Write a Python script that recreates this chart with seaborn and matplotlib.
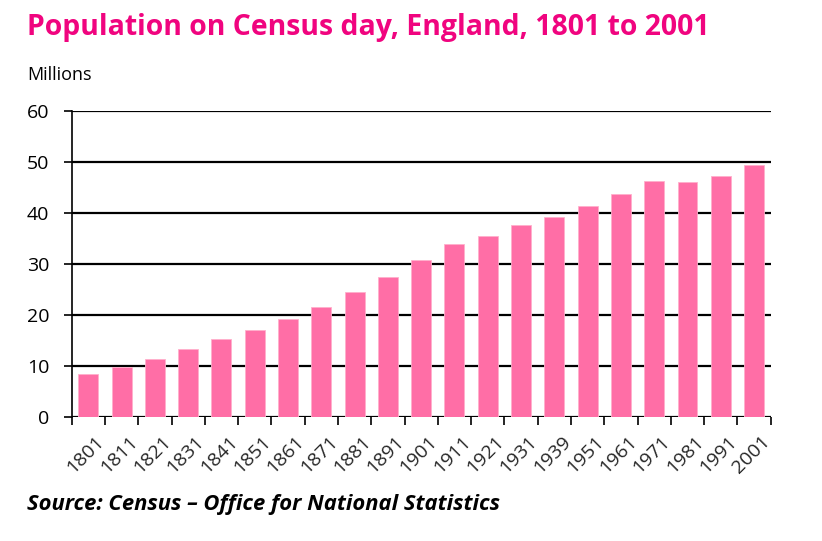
import matplotlib
matplotlib.use("Agg")
import matplotlib.pyplot as plt
import matplotlib.transforms as mtransforms
import seaborn as sns
import pandas as pd

# census years and population (millions)
years = ["1801", "1811", "1821", "1831", "1841", "1851", "1861", "1871", "1881", "1891",
         "1901", "1911", "1921", "1931", "1939", "1951", "1961", "1971", "1981", "1991", "2001"]
population = [8.5, 9.8, 11.4, 13.3, 15.2, 17.1, 19.2, 21.6, 24.6, 27.5,
              30.7, 33.9, 35.5, 37.6, 39.2, 41.4, 43.7, 46.3, 46.1, 47.2, 49.4]
y_ticks = [0, 10, 20, 30, 40, 50, 60]

df = pd.DataFrame({"year": years, "population": population})

sns.set_theme(style="white")
plt.rcParams["font.family"] = ["Open Sans", "DejaVu Sans"]

fig = plt.figure(figsize=(8.22, 5.41), dpi=100)
ax = fig.add_axes([0.0872, 0.2292, 0.8504, 0.5656])

for t in y_ticks:
    ax.axhline(t, color="black", lw=1.6, zorder=0)

sns.barplot(data=df, x="year", y="population", color="#FF6EA6", saturation=1,
            width=0.6, edgecolor="#FFB0CC", linewidth=0.6, ax=ax, zorder=2)

ax.set_ylim(0, 60)
ax.set_xlim(-0.5, len(years) - 0.5)
ax.set_yticks(y_ticks)
ax.set_xlabel("")
ax.set_ylabel("")

for s in ["top", "right", "bottom"]:
    ax.spines[s].set_visible(False)
ax.spines["left"].set_color("black")
ax.spines["left"].set_linewidth(1.2)

ax.tick_params(axis="y", left=True, length=6, width=1.2, color="black",
               labelsize=14, pad=10, labelcolor="black")
# x ticks sit between the bars
ax.set_xticks([i - 0.5 for i in range(len(years) + 1)], minor=True)
ax.tick_params(axis="x", which="minor", bottom=True, length=6, width=1.2, color="black")
ax.tick_params(axis="x", which="major", bottom=False, length=0, pad=11)

offset = mtransforms.ScaledTranslation(5 / 72, 0, fig.dpi_scale_trans)
for lbl in ax.get_xticklabels():
    lbl.set_fontsize(14)
    lbl.set_rotation(45)
    lbl.set_ha("right")
    lbl.set_rotation_mode("anchor")
    lbl.set_transform(lbl.get_transform() + offset)

fig.text(0.033, 0.935, "Population on Census day, England, 1801 to 2001",
         color="#F0047F", fontsize=20.4, fontweight="bold", ha="left", va="baseline")
fig.text(0.033, 0.852, "Millions", fontsize=13, ha="left", va="baseline", color="black")
fig.text(0.033, 0.057, "Source: Census \u2013 Office for National Statistics",
         fontsize=15.8, fontweight="bold", fontstyle="italic", ha="left", va="baseline",
         color="black")

fig.savefig("out.png", dpi=100)
